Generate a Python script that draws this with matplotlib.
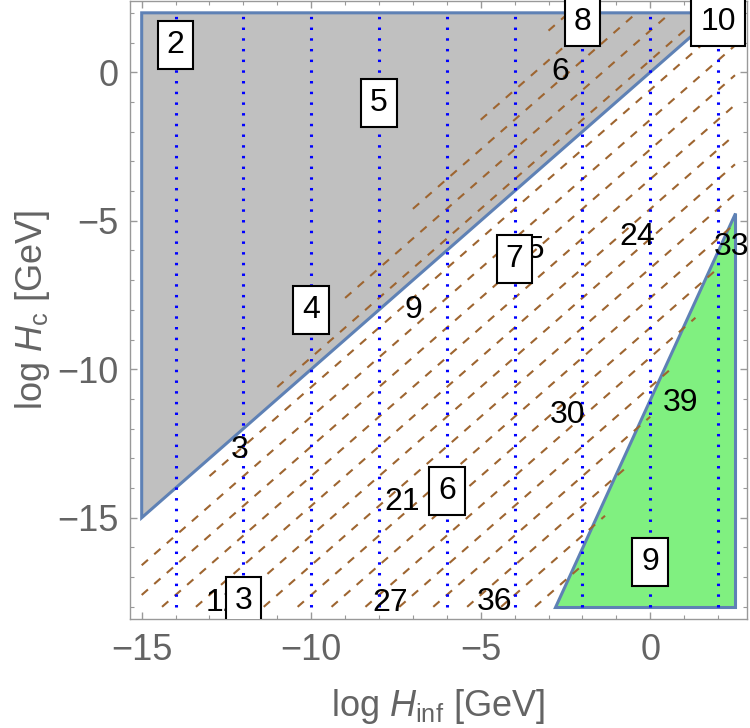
import numpy as np
import matplotlib
matplotlib.use('Agg')
import matplotlib.pyplot as plt
from matplotlib.patches import Polygon
from matplotlib.ticker import MultipleLocator

plt.rcParams['font.family'] = ['Liberation Sans', 'DejaVu Sans']
plt.rcParams['mathtext.fontset'] = 'custom'
plt.rcParams['mathtext.rm'] = 'Liberation Sans'
plt.rcParams['mathtext.it'] = 'Liberation Sans:italic'

# --- regiones ---
gris_x = [-15, -15, 2]
gris_y = [2, -15, 2]
verde_x = [-2.8, 2.5, 2.5]
verde_y = [-18, -18, -4.75]

# --- contornos verticales (azules) ---
azul_x = [-14, -12, -10, -8, -6, -4, -2, 0, 2]
azul_val = [2, 3, 4, 5, 6, 7, 8, 9, 10]
azul_lab_y = [0.92, -17.8, -8.0, -1.03, -14.1, -6.29, 1.7, -16.5, 1.7]

# --- contornos diagonales (cafe): y = x + c ---
cafe_c = [4.4, 3.4, 2.4, 1.4, 0.4, -0.6, -1.6, -2.6, -3.6, -4.6, -5.6,
          -6.6, -7.6, -8.6, -9.6, -10.6, -11.6, -12.6, -13.6, -14.6]
# limites de la zona con lineas cafe
borde_sup = (1.5, 5.9)    # y <= 1.5 x + 5.9
borde_inf = (2.5, -11.6)  # y >= 2.5 x - 11.6
cafe_val = [3, 6, 9, 12, 15, 21, 24, 27, 30, 33, 36, 39]
cafe_lab_x = [-12.12, -2.66, -6.99, -12.6, -3.63, -7.33, -0.38, -7.66, -2.45, 2.4, -4.58, 0.88]
cafe_lab_y = [-12.72, 0.0, -8.0, -17.88, -5.99, -14.46, -5.56, -17.88, -11.54, -5.88, -17.83, -11.15]

fig = plt.figure(figsize=(7.5, 7.28), dpi=100)
ax = fig.add_axes([0.1731, 0.1501, 0.8227, 0.8486])
ax.set_xlim(-15.35, 2.85)
ax.set_ylim(-18.4, 2.4)

borde = '#5E81B5'
ax.add_patch(Polygon(list(zip(gris_x, gris_y)), closed=True, fc='#C0C0C0',
                     ec=borde, lw=2.2, zorder=1))
ax.add_patch(Polygon(list(zip(verde_x, verde_y)), closed=True, fc='#80F080',
                     ec=borde, lw=2.2, zorder=1))

# lineas cafe
for c in cafe_c:
    a1, b1 = borde_sup
    a2, b2 = borde_inf
    xlo = max(-15, -18 - c, (c - b1) / (a1 - 1))
    xhi = min(2.5, 2 - c, (c - b2) / (a2 - 1))
    if xhi <= xlo:
        continue
    xs = np.array([xlo, xhi])
    ax.plot(xs, xs + c, color='#9E6530', lw=1.5, ls=(0, (4, 4)), zorder=2)

# lineas azules punteadas
for x in azul_x:
    ax.plot([x, x], [-18, 2], color='#0000FF', lw=2.2, ls=(0, (0.8, 2.7)),
            dash_capstyle='butt', zorder=3)

# etiquetas cafe
for v, x, y in zip(cafe_val, cafe_lab_x, cafe_lab_y):
    ax.text(x, y, str(v), fontsize=23, ha='center', va='center', color='black',
            zorder=5, clip_on=False)

# etiquetas en caja
for v, x, y in zip(azul_val, azul_x, azul_lab_y):
    ax.text(x, y, str(v), fontsize=23, ha='center', va='center', color='black',
            zorder=6, clip_on=(v == 3),
            bbox=dict(boxstyle='square,pad=0.28', fc='white', ec='black', lw=1.5))

# ejes
ax.xaxis.set_major_locator(MultipleLocator(5))
ax.xaxis.set_minor_locator(MultipleLocator(1))
ax.yaxis.set_major_locator(MultipleLocator(5))
ax.yaxis.set_minor_locator(MultipleLocator(1))
ax.tick_params(which='both', direction='in', top=True, right=True, color='#999999')
ax.tick_params(which='major', length=5, width=1)
ax.tick_params(which='minor', length=3, width=0.8)
ax.tick_params(axis='x', which='major', labelsize=26, labelcolor='#646464', pad=10)
ax.tick_params(axis='y', which='major', labelsize=26, labelcolor='#646464', pad=8)
for s in ax.spines.values():
    s.set_color('#999999')
    s.set_linewidth(1)

ax.set_xlabel(r'log $H_{\mathrm{inf}}$ [GeV]', fontsize=26, color='#646464', labelpad=14)
ax.set_ylabel(r'log $H_{\mathrm{c}}$ [GeV]', fontsize=26, color='#646464', labelpad=4)

fig.savefig('out.png', dpi=100)
